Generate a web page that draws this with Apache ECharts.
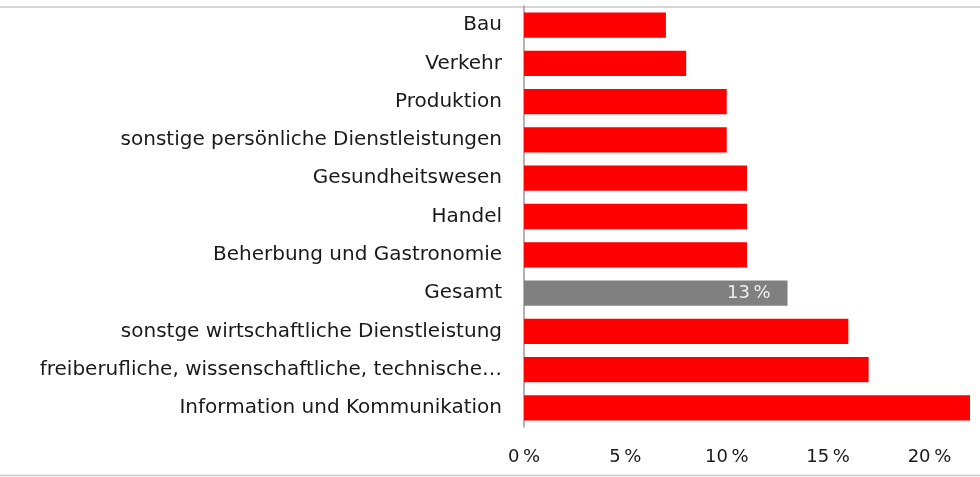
<!DOCTYPE html>
<html><head><meta charset="utf-8">
<script src="https://cdn.jsdelivr.net/npm/echarts@6/dist/echarts.min.js"></script>
<style>html,body{margin:0;padding:0;background:#fff}#c{width:980px;height:477px}</style>
</head><body><div id="c"></div>
<script>
var categories = ["Bau","Verkehr","Produktion","sonstige persönliche Dienstleistungen","Gesundheitswesen","Handel","Beherbung und Gastronomie","Gesamt","sonstge wirtschaftliche Dienstleistung","freiberufliche, wissenschaftliche, technische…","Information und Kommunikation"];
var values = [7,8,10,10,11,11,11,13,16,17,22];
var highlight = "Gesamt";
var xTicks = [0,5,10,15,20];
var font = "DejaVu Sans";
var chart = echarts.init(document.getElementById('c'));
chart.setOption({
  animation:false,
  grid:{left:524,right:10,top:6,bottom:50,containLabel:false},
  xAxis:{type:'value',min:0,max:22,interval:5,
    axisLine:{show:false},axisTick:{show:false},splitLine:{show:false},
    axisLabel:{showMaxLabel:false,margin:21,color:'#1a1a1a',fontFamily:font,fontSize:18,
      formatter:function(v){return xTicks.indexOf(v)>=0? v+'\u2009%':'';}}},
  yAxis:{type:'category',inverse:true,data:categories,
    axisLine:{show:true,lineStyle:{color:'#999',width:1.5}},axisTick:{show:false},
    axisLabel:{color:'#1a1a1a',fontFamily:font,fontSize:20,margin:22}},
  series:[{type:'bar',barCategoryGap:'34%',
    data:values.map(function(v,i){return {value:v,itemStyle:{color:categories[i]===highlight?'#808080':'#ff0000'},
      label:{show:categories[i]===highlight}};}),
    label:{position:'insideRight',distance:17,color:'#eeeeee',fontFamily:font,fontSize:18,formatter:'{c}\u2009%'}}],
  graphic:[
    {type:'line',shape:{x1:0,y1:7,x2:980,y2:7},style:{stroke:'#c8c8c8',lineWidth:1.5}},
    {type:'line',shape:{x1:0,y1:475.5,x2:980,y2:475.5},style:{stroke:'#c8c8c8',lineWidth:1.5}}
  ]
});
</script></body></html>
